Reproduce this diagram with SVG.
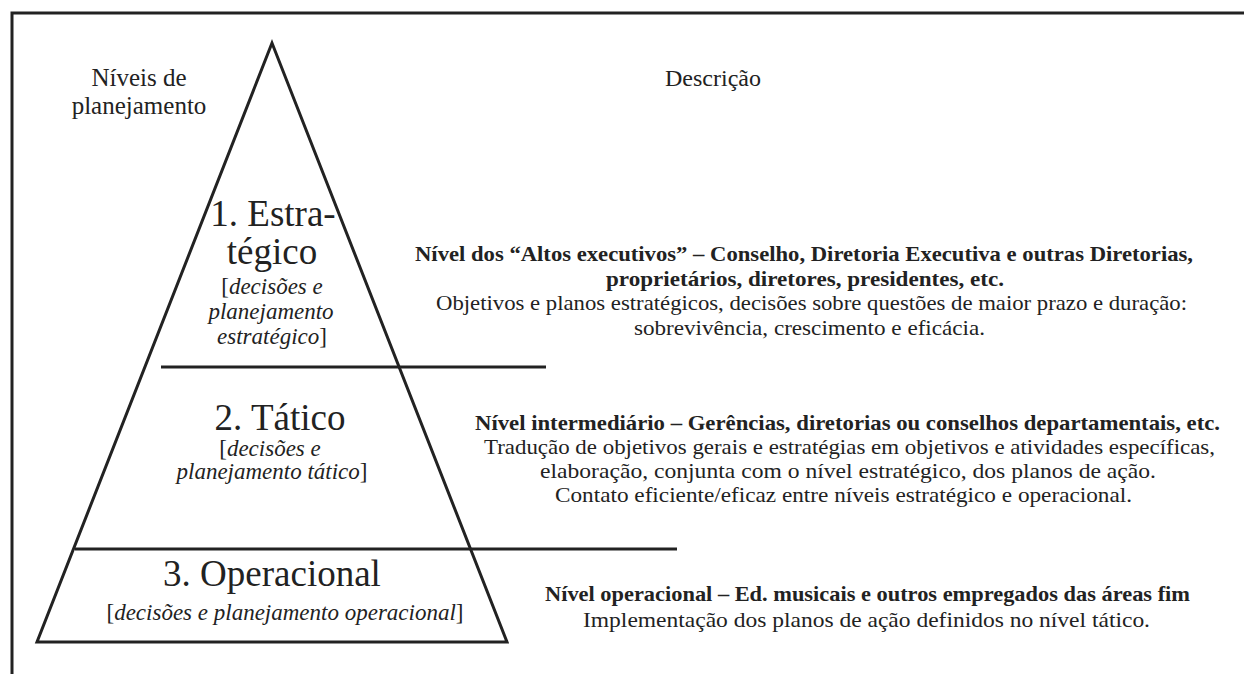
<svg xmlns="http://www.w3.org/2000/svg" width="1244" height="674" viewBox="0 0 1244 674">
<style>
.t{font-family:"Liberation Serif","Times New Roman",Times,serif;fill:#222}
.c{text-anchor:middle}
.b{font-weight:bold}
.i{font-style:italic}
.ln{stroke:#222;stroke-width:3;fill:none}
</style>
<rect width="1244" height="674" fill="#fff"/>
<g id="frame">
<path class="ln" d="M1244 13 H12 V674" stroke-width="3.5"/>
</g>
<g id="pyramid">
<polygon class="ln" points="272,43 37,642 507,642" stroke-linejoin="miter"/>
</g>
<g id="connectors">
<line class="ln" x1="161" y1="367" x2="546" y2="367"/>
<line class="ln" x1="75" y1="549" x2="677" y2="549"/>
</g>
<g id="header-left">
<text class="t c" x="139" y="86" font-size="25">Níveis de</text>
<text class="t c" x="139" y="114" font-size="25">planejamento</text>
</g>
<g id="header-right">
<text class="t c" x="713" y="86" font-size="24">Descrição</text>
</g>
<g id="level1">
<text class="t c" x="273" y="226" font-size="37">1. Estra-</text>
<text class="t c" x="272" y="264" font-size="37">tégico</text>
<text class="t c" x="272" y="294" font-size="23">[<tspan class="i">decisões e</tspan></text>
<text class="t c i" x="271" y="319" font-size="23">planejamento</text>
<text class="t c" x="272" y="344" font-size="23"><tspan class="i">estratégico</tspan>]</text>
</g>
<g id="level2">
<text class="t c" x="280" y="430" font-size="37">2. Tático</text>
<text class="t c" x="270" y="456" font-size="23">[<tspan class="i">decisões e</tspan></text>
<text class="t c" x="272" y="479" font-size="23"><tspan class="i">planejamento tático</tspan>]</text>
</g>
<g id="level3">
<text class="t c" x="272" y="586" font-size="37">3. Operacional</text>
<text class="t c" x="285" y="620" font-size="23">[<tspan class="i">decisões e planejamento operacional</tspan>]</text>
</g>
<g id="desc1">
<text class="t b" x="415" y="261" font-size="22" textLength="778" lengthAdjust="spacingAndGlyphs">Nível dos “Altos executivos” – Conselho, Diretoria Executiva e outras Diretorias,</text>
<text class="t b" x="606" y="286" font-size="22" textLength="398" lengthAdjust="spacingAndGlyphs">proprietários, diretores, presidentes, etc.</text>
<text class="t" x="436" y="310" font-size="22" textLength="751" lengthAdjust="spacingAndGlyphs">Objetivos e planos estratégicos, decisões sobre questões de maior prazo e duração:</text>
<text class="t" x="634" y="335" font-size="22" textLength="351" lengthAdjust="spacingAndGlyphs">sobrevivência, crescimento e eficácia.</text>
</g>
<g id="desc2">
<text class="t b" x="475" y="430" font-size="22" textLength="745" lengthAdjust="spacingAndGlyphs">Nível intermediário – Gerências, diretorias ou conselhos departamentais, etc.</text>
<text class="t" x="484" y="454" font-size="22" textLength="731" lengthAdjust="spacingAndGlyphs">Tradução de objetivos gerais e estratégias em objetivos e atividades específicas,</text>
<text class="t" x="540" y="478" font-size="22" textLength="616" lengthAdjust="spacingAndGlyphs">elaboração, conjunta com o nível estratégico, dos planos de ação.</text>
<text class="t" x="555" y="502" font-size="22" textLength="577" lengthAdjust="spacingAndGlyphs">Contato eficiente/eficaz entre níveis estratégico e operacional.</text>
</g>
<g id="desc3">
<text class="t b" x="545" y="601" font-size="22" textLength="645" lengthAdjust="spacingAndGlyphs">Nível operacional – Ed. musicais e outros empregados das áreas fim</text>
<text class="t" x="583" y="627" font-size="22" textLength="567" lengthAdjust="spacingAndGlyphs">Implementação dos planos de ação definidos no nível tático.</text>
</g>
</svg>
